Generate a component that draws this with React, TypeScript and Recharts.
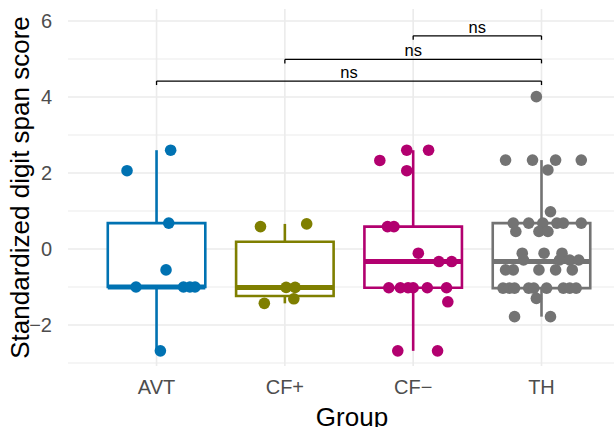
import {
    ComposedChart,
    Scatter,
    XAxis,
    YAxis,
    CartesianGrid,
    ReferenceArea,
    ReferenceLine,
    Label,
} from "recharts";

const groups = ["AVT", "CF+", "CF−", "TH"];
const colors = ["#0072B2", "#7F7F00", "#B2006F", "#737373"];

// [jitter offset in group units, score]
const avtPoints = [
    [0.11, 2.6], [-0.23, 2.06], [0.095, 0.68], [0.074, -0.55],
    [-0.16, -1.0], [0.21, -1.0], [0.26, -1.0], [0.3, -1.0], [0.03, -2.68],
];
const cfPlusPoints = [
    [-0.19, 0.59], [0.17, 0.66], [0.01, -1.01], [0.08, -1.01], [0.07, -1.31], [-0.16, -1.43],
];
const cfMinusPoints = [
    [-0.05, 2.6], [0.12, 2.6], [-0.26, 2.33], [-0.05, 2.06], [-0.2, 0.59], [-0.15, 0.59],
    [0.04, -0.11], [0.2, -0.33], [0.3, -0.33], [-0.19, -1.02], [-0.1, -1.02], [-0.04, -1.02],
    [0.0, -1.02], [0.11, -1.02], [0.26, -1.02], [0.27, -1.39], [-0.12, -2.68], [0.19, -2.68],
];
const thPoints = [
    [-0.04, 4.01], [-0.28, 2.34], [-0.07, 2.34], [0.11, 2.34], [0.31, 2.34], [0.05, 2.08],
    [0.07, 0.98], [-0.22, 0.68], [-0.1, 0.68], [0.01, 0.68], [0.12, 0.68], [0.17, 0.68],
    [0.31, 0.68], [-0.2, 0.46], [-0.02, 0.46], [0.05, 0.46], [-0.15, -0.11], [0.02, -0.11],
    [0.16, -0.11], [-0.14, -0.29], [0.14, -0.29], [0.22, -0.29], [0.29, -0.29],
    [-0.28, -0.55], [-0.22, -0.55], [-0.02, -0.55], [0.11, -0.55], [0.24, -0.55],
    [-0.3, -1.03], [-0.25, -1.03], [-0.21, -1.03], [-0.1, -1.03], [-0.06, -1.03],
    [0.04, -1.03], [0.17, -1.03], [0.22, -1.03], [0.27, -1.03],
    [-0.04, -1.3], [-0.21, -1.78], [0.07, -1.78],
];
const groupPoints = [avtPoints, cfPlusPoints, cfMinusPoints, thPoints];

const boxQ1 = [-1.0, -1.235, -1.02, -1.03];
const boxMedian = [-1.0, -1.01, -0.33, -0.33];
const boxQ3 = [0.68, 0.19, 0.59, 0.68];
const whiskerLow = [-2.68, -1.43, -2.68, -1.78];
const whiskerHigh = [2.6, 0.66, 2.6, 2.34];

// [from group, to group, bracket height]
const comparisons = [[1, 4, 4.42], [2, 4, 4.99], [3, 4, 5.61]];
const comparisonLabels = ["ns", "ns", "ns"];

const yTicks = [-2, 0, 2, 4, 6];
const yMinor = [-3, -1, 1, 3, 5];

const halfBox = 0.38;
const tickDrop = 0.105;

export default function App() {
    return (
        <div
            style={{
                position: "absolute",
                left: 0,
                top: 0,
                width: 614,
                height: 427,
                overflow: "hidden",
                background: "#fff",
                fontFamily: "'Liberation Sans', Arial, sans-serif",
            }}
        >
            <ComposedChart width={614} height={427} margin={{ top: 9, right: 0, bottom: 0, left: 0 }}>
                <CartesianGrid horizontalValues={yMinor} vertical={false} stroke="#EBEBEB" strokeWidth={1} />
                <CartesianGrid
                    horizontalValues={yTicks}
                    verticalValues={[1, 2, 3, 4]}
                    stroke="#EBEBEB"
                    strokeWidth={1.6}
                />
                <XAxis
                    type="number"
                    dataKey="x"
                    domain={[0.31, 4.565]}
                    ticks={[1, 2, 3, 4]}
                    interval={0}
                    allowDataOverflow
                    tickFormatter={(v) => groups[v - 1]}
                    axisLine={false}
                    tickLine={false}
                    tickMargin={8}
                    height={61}
                    tick={{ fill: "#4D4D4D", fontSize: 20 }}
                >
                    <Label value="Group" position="insideBottom" offset={1} dx={11} style={{ fontSize: 26, fill: "#000" }} />
                </XAxis>
                <YAxis
                    type="number"
                    dataKey="y"
                    domain={[-3.079, 6.316]}
                    ticks={yTicks}
                    interval={0}
                    allowDataOverflow
                    tickFormatter={(v) => (v < 0 ? "−" + Math.abs(v) : String(v))}
                    axisLine={false}
                    tickLine={false}
                    tickMargin={10}
                    width={68}
                    tick={{ fill: "#4D4D4D", fontSize: 20 }}
                >
                    <Label
                        value="Standardized digit span score"
                        angle={-90}
                        position="insideLeft"
                        offset={19.5}
                        style={{ fontSize: 26, fill: "#000", textAnchor: "middle" }}
                    />
                </YAxis>

                {groups.map((g, i) => (
                    <ReferenceLine
                        key={"wl" + g}
                        segment={[{ x: i + 1, y: whiskerLow[i] }, { x: i + 1, y: boxQ1[i] }]}
                        stroke={colors[i]}
                        strokeWidth={2.6}
                    />
                ))}
                {groups.map((g, i) => (
                    <ReferenceLine
                        key={"wh" + g}
                        segment={[{ x: i + 1, y: boxQ3[i] }, { x: i + 1, y: whiskerHigh[i] }]}
                        stroke={colors[i]}
                        strokeWidth={2.6}
                    />
                ))}
                {groups.map((g, i) => (
                    <ReferenceArea
                        key={"box" + g}
                        x1={i + 1 - halfBox}
                        x2={i + 1 + halfBox}
                        y1={boxQ1[i]}
                        y2={boxQ3[i]}
                        fill="#fff"
                        fillOpacity={1}
                        stroke={colors[i]}
                        strokeWidth={2.6}
                    />
                ))}
                {groups.map((g, i) => (
                    <ReferenceLine
                        key={"med" + g}
                        segment={[
                            { x: i + 1 - halfBox, y: boxMedian[i] },
                            { x: i + 1 + halfBox, y: boxMedian[i] },
                        ]}
                        stroke={colors[i]}
                        strokeWidth={5}
                    />
                ))}

                {groups.map((g, i) => (
                    <Scatter
                        key={"pts" + g}
                        name={g}
                        data={groupPoints[i].map(([dx, v]) => ({ x: i + 1 + dx, y: v }))}
                        fill={colors[i]}
                        isAnimationActive={false}
                        shape={(p: any) => <circle cx={p.cx} cy={p.cy} r={5.8} fill={colors[i]} />}
                    />
                ))}

                {comparisons.map(([a, b, h], k) => (
                    <ReferenceLine
                        key={"br" + k}
                        segment={[{ x: a, y: h }, { x: b, y: h }]}
                        stroke="#000"
                        strokeWidth={1.3}
                        label={{ value: comparisonLabels[k], position: "top", offset: 3, fontSize: 16.5, fill: "#000" }}
                    />
                ))}
                {comparisons.map(([a, b, h], k) => (
                    <ReferenceLine
                        key={"bl" + k}
                        segment={[{ x: a, y: h }, { x: a, y: h - tickDrop }]}
                        stroke="#000"
                        strokeWidth={1.3}
                    />
                ))}
                {comparisons.map(([a, b, h], k) => (
                    <ReferenceLine
                        key={"bt" + k}
                        segment={[{ x: b, y: h }, { x: b, y: h - tickDrop }]}
                        stroke="#000"
                        strokeWidth={1.3}
                    />
                ))}
            </ComposedChart>
        </div>
    );
}
